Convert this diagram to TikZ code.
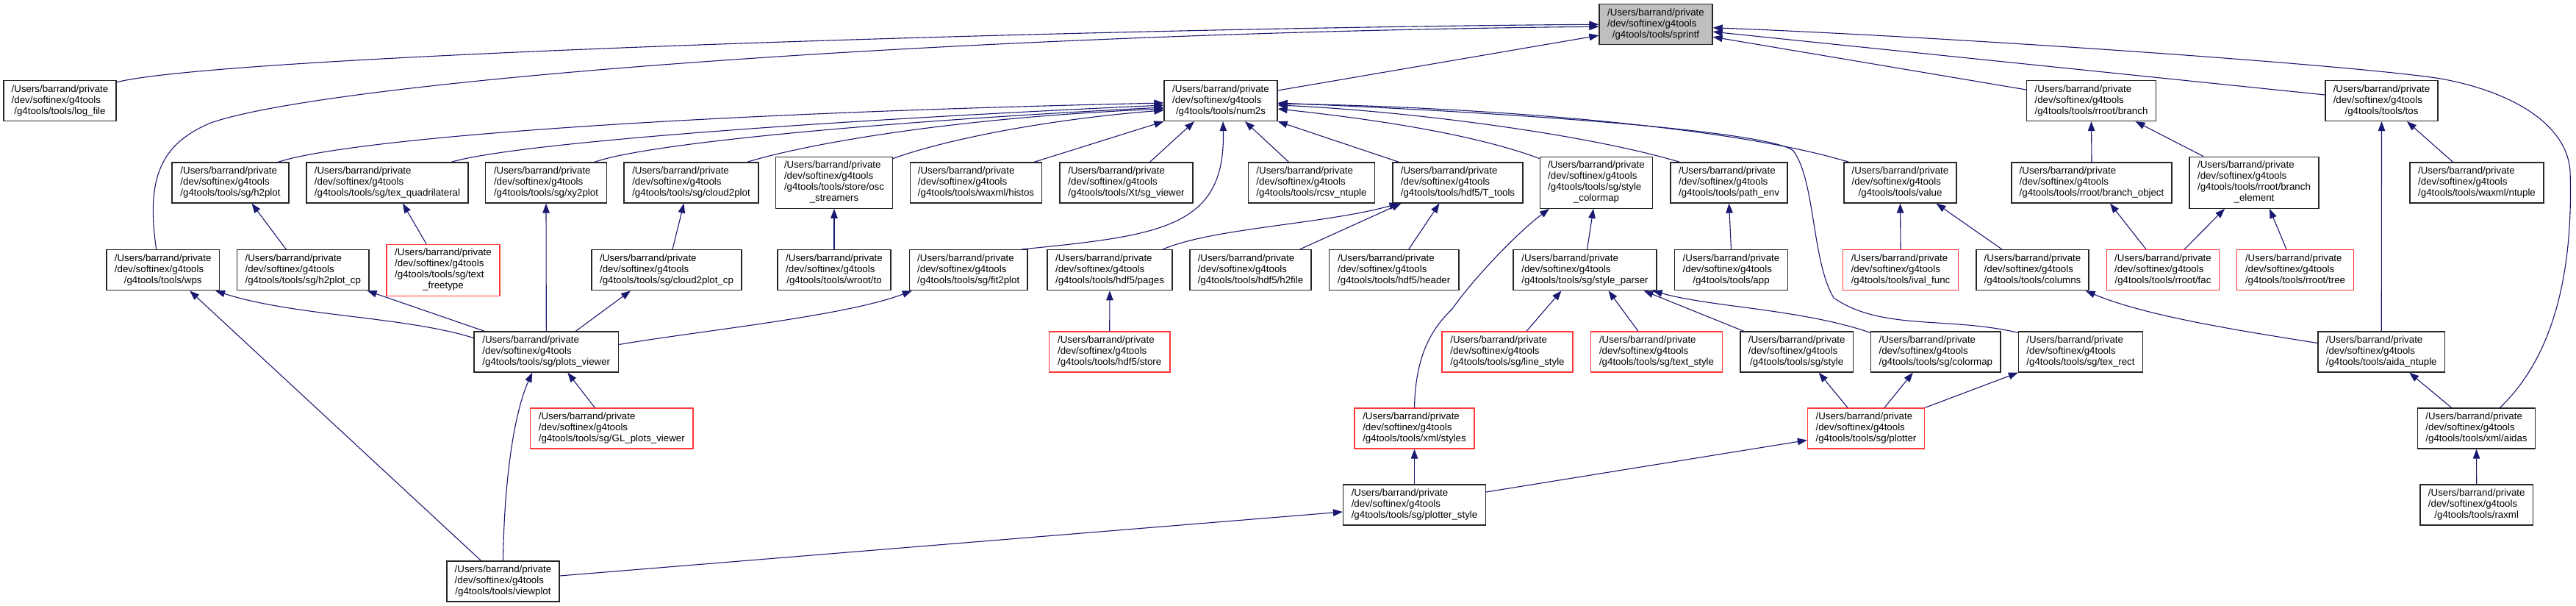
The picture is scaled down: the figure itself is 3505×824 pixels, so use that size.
\documentclass[tikz,border=0pt]{standalone}
\usepackage{fontspec}
\setmainfont{Liberation Sans}
\usetikzlibrary{arrows.meta}
\definecolor{mblue}{HTML}{191970}
\definecolor{nred}{HTML}{FF3838}
\definecolor{ngray}{HTML}{BFBFBF}
\newcommand{\lblfont}{\fontsize{13.3bp}{15bp}\selectfont}
\newcommand{\threel}[1]{\begin{tabular}{@{}l@{}}/Users/barrand/private\\/dev/softinex/g4tools\\\multicolumn{1}{@{}c@{}}{#1}\end{tabular}}
\newcommand{\fourl}[2]{\begin{tabular}{@{}l@{}}/Users/barrand/private\\/dev/softinex/g4tools\\#1\\\multicolumn{1}{@{}c@{}}{#2}\end{tabular}}
\tikzset{
  box/.style={draw=black!85, line width=1.3bp, fill=white, inner sep=0pt, minimum height=55bp, font=\lblfont, text=black},
  redbox/.style={box, draw=nred},
  tallbox/.style={minimum height=70bp},
  edge/.style={draw=mblue, line width=1.1bp, -{Triangle[length=13bp,width=9.5bp]}}
}
\begin{document}
\begin{tikzpicture}[x=1bp,y=-1bp]
\useasboundingbox (0,0) rectangle (3505,824);
% row A
\node[box, fill=ngray, minimum width=154bp] (sprintf) at (2253,33.2) {\threel{/g4tools/tools/sprintf}};
% row B
\node[box, minimum width=153bp] (logfile) at (81.5,137) {\threel{/g4tools/tools/log\_file}};
\node[box, minimum width=154bp] (num2s) at (1661,137) {\threel{/g4tools/tools/num2s}};
\node[box, minimum width=176bp] (branch) at (2845.5,137) {\threel{/g4tools/tools/rroot/branch}};
\node[box, minimum width=153bp] (tos) at (3240.5,137) {\threel{/g4tools/tools/tos}};
% row C
\node[box, minimum width=159bp] (h2plot) at (313.5,248.5) {\threel{/g4tools/tools/sg/h2plot}};
\node[box, minimum width=220bp] (texquad) at (527,248.5) {\threel{/g4tools/tools/sg/tex\_quadrilateral}};
\node[box, minimum width=164.5bp] (xytwoplot) at (743,248.5) {\threel{/g4tools/tools/sg/xy2plot}};
\node[box, minimum width=183bp] (cloudplot) at (940.5,248.5) {\threel{/g4tools/tools/sg/cloud2plot}};
\node[box, tallbox, minimum width=159bp] (osc) at (1135,248.2) {\fourl{/g4tools/tools/store/osc}{\_streamers}};
\node[box, minimum width=179bp] (histos) at (1328,248.5) {\threel{/g4tools/tools/waxml/histos}};
\node[box, minimum width=181bp] (sgviewer) at (1532.5,248.5) {\threel{/g4tools/tools/Xt/sg\_viewer}};
\node[box, minimum width=172bp] (rcsv) at (1784.5,248.5) {\threel{/g4tools/tools/rcsv\_ntuple}};
\node[box, minimum width=177bp] (Ttools) at (1983.5,248.5) {\threel{/g4tools/tools/hdf5/T\_tools}};
\node[box, tallbox, minimum width=153.5bp] (stylecmap) at (2172,248.2) {\fourl{/g4tools/tools/sg/style}{\_colormap}};
\node[box, minimum width=159bp] (pathenv) at (2352.5,248.5) {\threel{/g4tools/tools/path\_env}};
\node[box, minimum width=153bp] (value) at (2585.5,248.5) {\threel{/g4tools/tools/value}};
\node[box, minimum width=218bp] (brobj) at (2846,248.5) {\threel{/g4tools/tools/rroot/branch\_object}};
\node[box, tallbox, minimum width=176bp] (brelem) at (3067,248.2) {\fourl{/g4tools/tools/rroot/branch}{\_element}};
\node[box, minimum width=182bp] (wxntuple) at (3370,248.5) {\threel{/g4tools/tools/waxml/ntuple}};
% row D
\node[box, minimum width=153.5bp] (wps) at (221.7,367.2) {\threel{/g4tools/tools/wps}};
\node[box, minimum width=179.4bp] (h2plotcp) at (412.3,367.2) {\threel{/g4tools/tools/sg/h2plot\_cp}};
\node[redbox, tallbox, minimum width=154bp] (textft) at (603,367.2) {\fourl{/g4tools/tools/sg/text}{\_freetype}};
\node[box, minimum width=204bp] (cloudcp) at (907,367.2) {\threel{/g4tools/tools/sg/cloud2plot\_cp}};
\node[box, minimum width=154bp] (wrootto) at (1135,367.2) {\threel{/g4tools/tools/wroot/to}};
\node[box, minimum width=160.5bp] (fitplot) at (1317.7,367.2) {\threel{/g4tools/tools/sg/fit2plot}};
\node[box, minimum width=170bp] (pages) at (1510,367.2) {\threel{/g4tools/tools/hdf5/pages}};
\node[box, minimum width=165bp] (h2file) at (1701.5,367.2) {\threel{/g4tools/tools/hdf5/h2file}};
\node[box, minimum width=176.5bp] (header) at (1896.7,367.2) {\threel{/g4tools/tools/hdf5/header}};
\node[box, minimum width=195bp] (styleparser) at (2156.5,367.2) {\threel{/g4tools/tools/sg/style\_parser}};
\node[box, minimum width=154bp] (app) at (2355.5,367.2) {\threel{/g4tools/tools/app}};
\node[redbox, minimum width=157.6bp] (ivalfunc) at (2586,367.2) {\threel{/g4tools/tools/ival\_func}};
\node[box, minimum width=153bp] (columns) at (2765.5,367.2) {\threel{/g4tools/tools/columns}};
\node[redbox, minimum width=153bp] (fac) at (2943,367.2) {\threel{/g4tools/tools/rroot/fac}};
\node[redbox, minimum width=158.7bp] (tree) at (3123,367.2) {\threel{/g4tools/tools/rroot/tree}};
% row E
\node[box, minimum width=196.6bp] (plotsviewer) at (743.3,478.5) {\threel{/g4tools/tools/sg/plots\_viewer}};
\node[redbox, minimum width=164.5bp] (store) at (1509.7,478.5) {\threel{/g4tools/tools/hdf5/store}};
\node[redbox, minimum width=178bp] (linestyle) at (2051,478.5) {\threel{/g4tools/tools/sg/line\_style}};
\node[redbox, minimum width=179bp] (textstyle) at (2254,478.5) {\threel{/g4tools/tools/sg/text\_style}};
\node[box, minimum width=153.5bp] (sgstyle) at (2444.7,478.5) {\threel{/g4tools/tools/sg/style}};
\node[box, minimum width=176.4bp] (colormap) at (2633.8,478.5) {\threel{/g4tools/tools/sg/colormap}};
\node[box, minimum width=169bp] (texrect) at (2831,478.5) {\threel{/g4tools/tools/sg/tex\_rect}};
\node[box, minimum width=172.5bp] (aidantuple) at (3240.2,478.5) {\threel{/g4tools/tools/aida\_ntuple}};
% row F
\node[redbox, minimum width=221.4bp] (glplots) at (832.3,582.5) {\threel{/g4tools/tools/sg/GL\_plots\_viewer}};
\node[redbox, minimum width=163bp] (xmlstyles) at (1924.5,582.5) {\threel{/g4tools/tools/xml/styles}};
\node[redbox, minimum width=159bp] (plotter) at (2539,582.5) {\threel{/g4tools/tools/sg/plotter}};
\node[box, minimum width=159.8bp] (xmlaidas) at (3369.5,582.5) {\threel{/g4tools/tools/xml/aidas}};
% row G
\node[box, minimum width=194bp] (plotterstyle) at (1924.5,686.5) {\threel{/g4tools/tools/sg/plotter\_style}};
\node[box, minimum width=153.5bp] (raxml) at (3369.7,686.5) {\threel{/g4tools/tools/raxml}};
% row H
\node[box, minimum width=153bp] (viewplot) at (684.5,790.5) {\threel{/g4tools/tools/viewplot}};

% edges to sprintf
\draw[edge] ([yshift=-3bp]logfile.north east) .. controls (300,75) and (1500,38) .. (sprintf.west);
\draw[edge] ([xshift=-9bp]wps.north) .. controls (198,240) and (220,195) .. (287,167) .. controls (450,110) and (1300,45) .. ([yshift=-3bp]sprintf.west);
\draw[edge] ([yshift=14bp]num2s.east) -- ([yshift=-15bp]sprintf.west);
\draw[edge] ([yshift=15bp]branch.west) -- ([yshift=-17bp]sprintf.east);
\draw[edge] ([yshift=8bp]tos.west) -- ([yshift=-10bp]sprintf.east);
\draw[edge] ([xshift=32bp]xmlaidas.north) .. controls (3490,470) and (3500,330) .. (3497,233) .. controls (3493,170) and (3420,125) .. (3321,107) .. controls (3200,88) and (2650,50) .. ([yshift=-4.5bp]sprintf.east);
% edges to num2s
\draw[edge] ([xshift=65bp]h2plot.north) .. controls (470,190) and (900,155) .. ([yshift=-3bp]num2s.west);
\draw[edge] ([xshift=87bp]texquad.north) .. controls (700,195) and (1100,165) .. ([yshift=-6bp]num2s.west);
\draw[edge] ([xshift=66bp]xytwoplot.north) .. controls (880,195) and (1200,165) .. ([yshift=-9bp]num2s.west);
\draw[edge] ([xshift=76bp]cloudplot.north) .. controls (1100,195) and (1300,160) .. ([yshift=-11bp]num2s.west);
\draw[edge] ([yshift=-3bp]osc.north east) .. controls (1300,185) and (1450,160) .. ([yshift=-13bp]num2s.west);
\draw[edge] ([xshift=79bp]histos.north) -- (num2s.south west);
\draw[edge] ([xshift=32bp]sgviewer.north) -- ([xshift=-36bp]num2s.south);
\draw[edge] ([xshift=72bp]fitplot.north) .. controls (1580,320) and (1668,310) .. ([xshift=3bp]num2s.south);
\draw[edge] ([xshift=-31bp]rcsv.north) -- ([xshift=33bp]num2s.south);
\draw[edge] ([xshift=-80bp]Ttools.north) -- (num2s.south east);
\draw[edge] ([yshift=-3bp]stylecmap.north west) .. controls (2000,180) and (1850,160) .. ([yshift=-11bp]num2s.east);
\draw[edge] ([xshift=-67bp]pathenv.north) .. controls (2150,180) and (1900,150) .. ([yshift=-6bp]num2s.east);
\draw[edge] ([xshift=-70bp]value.north) .. controls (2350,170) and (2000,145) .. ([yshift=-4bp]num2s.east);
\draw[edge] ([yshift=-2bp]texrect.north west) .. controls (2650,430) and (2560,450) .. (2495,405) .. controls (2465,355) and (2470,245) .. (2440,205) .. controls (2410,180) and (2100,155) .. ([yshift=-3bp]num2s.east);
% hdf5
\draw[edge] ([xshift=72bp]pages.north) .. controls (1650,310) and (1800,305) .. ([xshift=-80bp]Ttools.south);
\draw[edge] ([xshift=67bp]h2file.north) -- ([xshift=-77bp]Ttools.south);
\draw[edge] ([xshift=20bp]header.north) -- ([xshift=-25bp]Ttools.south);
\draw[edge] (store.north) -- (pages.south);
% style
\draw[edge] ([xshift=3bp]styleparser.north) -- ([xshift=-4bp]stylecmap.south);
\draw[edge] (xmlstyles.north) .. controls (1926,480) and (1950,445) .. (1976,420) .. controls (2000,385) and (2060,320) .. ([xshift=-64bp]stylecmap.south);
\draw[edge] ([xshift=26bp]linestyle.north) -- ([xshift=-32bp]styleparser.south);
\draw[edge] ([xshift=-25bp]textstyle.north) -- ([xshift=32bp]styleparser.south);
\draw[edge] ([xshift=-72bp]sgstyle.north) -- ([xshift=80bp]styleparser.south);
\draw[edge] ([yshift=-2bp]colormap.north west) .. controls (2450,420) and (2330,418) .. ([xshift=-6bp]styleparser.south east);
\draw[edge] ([xshift=-25bp]plotter.north) -- ([xshift=30bp]sgstyle.south);
\draw[edge] ([xshift=25bp]plotter.north) -- ([xshift=-31bp]colormap.south);
\draw[edge] (plotter.north east) -- (texrect.south west);
\draw[edge] ([yshift=17.5bp]plotterstyle.east) -- ([yshift=-16bp]plotter.west);
\draw[edge] (plotterstyle.north) -- (xmlstyles.south);
% viewplot / plots_viewer
\draw[edge] ([yshift=7.5bp]viewplot.east) -- ([yshift=-9.5bp]plotterstyle.west);
\draw[edge] ([xshift=-30bp]viewplot.north) -- ([xshift=36.5bp]wps.south);
\draw[edge] (viewplot.north) .. controls (686,650) and (700,560) .. ([xshift=-19bp]plotsviewer.south);
\draw[edge] ([xshift=-23bp]glplots.north) -- ([xshift=29bp]plotsviewer.south);
\draw[edge] ([yshift=19bp]plotsviewer.west) .. controls (550,430) and (400,430) .. ([xshift=-6bp]wps.south east);
\draw[edge] ([xshift=-84bp]plotsviewer.north) -- ([xshift=-3bp]h2plotcp.south east);
\draw[edge] (plotsviewer.north) -- (xytwoplot.south);
\draw[edge] ([xshift=40bp]plotsviewer.north) -- ([xshift=-49bp]cloudcp.south);
\draw[edge] ([yshift=10bp]plotsviewer.east) .. controls (950,450) and (1150,430) .. ([xshift=4bp]fitplot.south west);
\draw[edge] ([xshift=-23bp]h2plotcp.north) -- ([xshift=29bp]h2plot.south);
\draw[edge] ([xshift=-23bp]textft.north) -- ([xshift=21bp]texquad.south);
\draw[edge] ([xshift=8bp]cloudcp.north) -- ([xshift=-10bp]cloudplot.south);
\draw[edge] (wrootto.north) -- (osc.south);
\draw[edge] (app.north) -- (pathenv.south);
\draw[edge] (ivalfunc.north) -- (value.south);
\draw[edge] ([xshift=-41.5bp]columns.north) -- ([xshift=49bp]value.south);
% rroot
\draw[edge] (brobj.north) -- (branch.south);
\draw[edge] ([xshift=-69bp]brelem.north) -- ([xshift=60bp]branch.south);
\draw[edge] ([xshift=-23bp]fac.north) -- ([xshift=25bp]brobj.south);
\draw[edge] ([xshift=29bp]fac.north) -- ([xshift=-40bp]brelem.south);
\draw[edge] ([xshift=-12bp]tree.north) -- ([xshift=21bp]brelem.south);
% tos / aida
\draw[edge] ([xshift=-32.5bp]wxntuple.north) -- ([xshift=34.5bp]tos.south);
\draw[edge] (aidantuple.north) -- (tos.south);
\draw[edge] ([yshift=12bp]aidantuple.west) .. controls (3050,450) and (2920,430) .. ([xshift=-5bp]columns.south east);
\draw[edge] ([xshift=-34bp]xmlaidas.north) -- ([xshift=38bp]aidantuple.south);
\draw[edge] (raxml.north) -- (xmlaidas.south);
\end{tikzpicture}
\end{document}
